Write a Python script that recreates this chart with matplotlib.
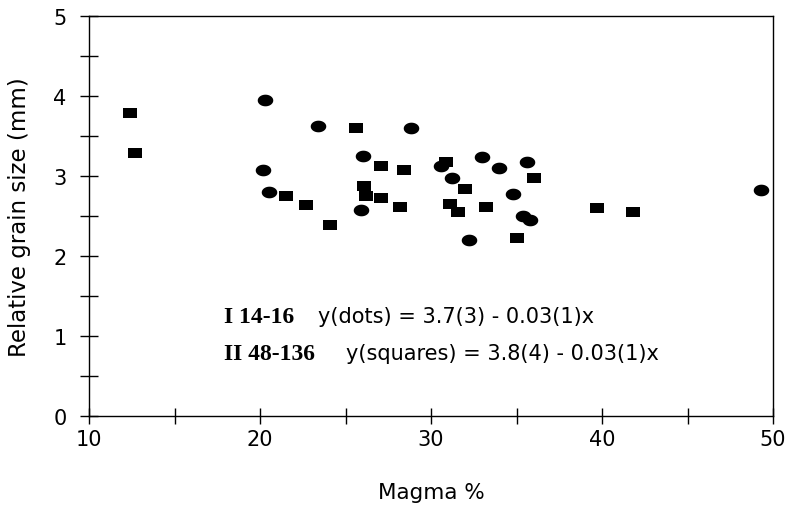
import numpy as np
import matplotlib.pyplot as plt
from matplotlib.ticker import MultipleLocator

# Valeurs
dots_x = [20.3, 23.4, 28.8, 26.0, 20.2, 20.5, 25.9, 30.6, 33.0, 34.0, 35.6, 31.2, 34.8, 35.4, 35.8, 32.2, 49.3]
dots_y = [3.95, 3.62, 3.60, 3.25, 3.07, 2.80, 2.58, 3.13, 3.24, 3.10, 3.18, 2.98, 2.78, 2.50, 2.45, 2.20, 2.82]

squares_x = [12.4, 12.7, 25.6, 27.1, 28.4, 26.1, 21.5, 26.2, 27.1, 22.7, 28.2, 24.1,
             30.9, 36.0, 32.0, 31.1, 31.6, 33.2, 35.0, 39.7, 41.8]
squares_y = [3.79, 3.29, 3.60, 3.12, 3.08, 2.87, 2.75, 2.75, 2.73, 2.64, 2.61, 2.39,
             3.18, 2.97, 2.84, 2.65, 2.55, 2.61, 2.23, 2.60, 2.55]

x_ticks = [10, 20, 30, 40, 50]
y_ticks = [0, 1, 2, 3, 4, 5]

fit_labels = ["I 14-16", "II 48-136"]
fit_texts = ["y(dots) = 3.7(3) - 0.03(1)x", "y(squares) = 3.8(4) - 0.03(1)x"]

# formes des marqueurs (ellipse aplatie, carre un peu large)
t = np.linspace(0, 2 * np.pi, 40)
ellipse = list(zip(np.cos(t), 0.75 * np.sin(t)))
carre = [(-1, -0.78), (1, -0.78), (1, 0.78), (-1, 0.78), (-1, -0.78)]

plt.rcParams['font.family'] = 'DejaVu Sans'
fig = plt.figure(figsize=(7.88, 5.10), dpi=100)
ax = fig.add_axes([0.113, 0.182, 0.868, 0.785])

ax.plot(squares_x, squares_y, linestyle='none', marker=carre, markersize=9.4,
        color='black', markeredgewidth=0)
ax.plot(dots_x, dots_y, linestyle='none', marker=ellipse, markersize=11.2,
        color='black', markeredgewidth=0)

ax.set_xlim(10, 50)
ax.set_ylim(0, 5)
ax.set_xticks(x_ticks)
ax.set_yticks(y_ticks)
ax.xaxis.set_minor_locator(MultipleLocator(5))
ax.yaxis.set_minor_locator(MultipleLocator(0.5))
ax.tick_params(axis='x', which='both', direction='inout', length=11.5, width=1,
               pad=3.5, labelsize=15)
ax.tick_params(axis='y', which='both', direction='inout', length=13.5, width=1,
               pad=9.5, labelsize=15)
for s in ax.spines.values():
    s.set_linewidth(1.0)

ax.set_xlabel("Magma %", fontsize=15.5)
ax.xaxis.set_label_coords(0.5, -0.165)
ax.set_ylabel("Relative grain size (mm)", fontsize=16.5)
ax.yaxis.set_label_coords(-0.085, 0.5)

# equations des droites
ax.text(0.197, 0.235, fit_labels[0], transform=ax.transAxes, fontsize=17,
        family='Liberation Serif', weight='bold', va='baseline')
ax.text(0.335, 0.235, fit_texts[0], transform=ax.transAxes, fontsize=15, va='baseline')
ax.text(0.197, 0.142, fit_labels[1], transform=ax.transAxes, fontsize=17,
        family='Liberation Serif', weight='bold', va='baseline')
ax.text(0.376, 0.142, fit_texts[1], transform=ax.transAxes, fontsize=15, va='baseline')

fig.savefig("out.png", dpi=100)
